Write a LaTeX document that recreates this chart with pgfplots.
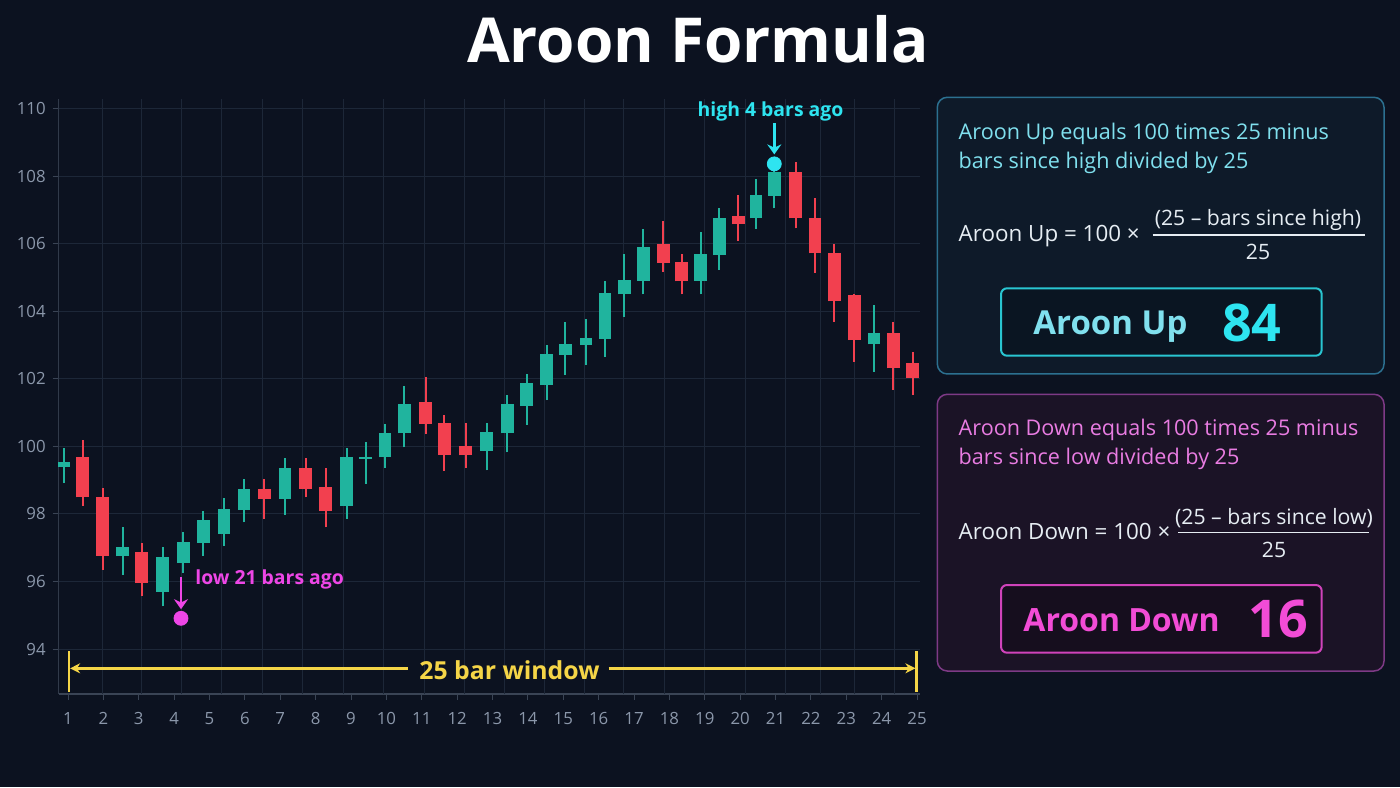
\documentclass[border=0pt]{standalone}
\usepackage{fontspec}
\setmainfont{Open Sans}
\usepackage{pgfplots}
\pgfplotsset{compat=1.18}
\usepackage{pgfplotstable}
\usetikzlibrary{arrows.meta}

\definecolor{bg}{HTML}{0C1220}
\definecolor{gridc}{HTML}{1D2738}
\definecolor{axisc}{HTML}{3A4455}
\definecolor{tickc}{HTML}{8B97AA}
\definecolor{upc}{HTML}{20B49E}
\definecolor{downc}{HTML}{F2404F}
\definecolor{cyanc}{HTML}{2EE4F0}
\definecolor{magc}{HTML}{EE46E6}
\definecolor{yel}{HTML}{F5D547}
\definecolor{pafill}{HTML}{0E1A29}
\definecolor{paborder}{HTML}{2C7090}
\definecolor{patext}{HTML}{80E0EE}
\definecolor{painner}{HTML}{0A1522}
\definecolor{pbfill}{HTML}{1B1326}
\definecolor{pbborder}{HTML}{7E3A86}
\definecolor{pbtext}{HTML}{E97CE2}
\definecolor{pbinner}{HTML}{160E1E}
\definecolor{pbstrong}{HTML}{F24CD6}
\definecolor{formc}{HTML}{E6EDF3}

% x = position on the 1..25 scale, o h l c = open high low close
\pgfplotstableread{
x      o      h      l      c
0.887  99.39  99.95  98.91  99.54
2.546  96.74  97.61  96.20  97.01
3.677  95.70  97.02  95.26  96.72
4.260  96.54  97.45  96.25  97.17
4.825  97.14  98.09  96.76  97.81
5.410  97.41  98.47  97.06  98.15
5.975  98.12  99.03  97.75  98.74
7.134  98.44  99.65  97.98  99.36
8.878  98.24  99.95  97.85  99.67
9.416  99.63  100.12 98.89  99.69
9.961  99.67  100.66 99.36  100.38
10.507 100.38 101.78 99.97  101.25
12.836 99.87  100.69 99.29  100.41
13.418 100.38 101.53 99.82  101.26
13.967 101.19 102.15 100.64 101.86
14.532 101.81 103.00 101.37 102.73
15.058 102.71 103.68 102.11 103.02
15.643 103.00 103.78 102.40 103.22
16.180 103.19 104.88 102.65 104.53
16.726 104.50 105.68 103.83 104.93
17.263 104.90 106.42 104.50 105.91
18.886 104.90 106.34 104.50 105.68
19.411 105.66 107.06 105.22 106.75
20.449 106.75 107.90 106.44 107.44
20.966 107.41 108.15 107.04 108.12
23.785 103.02 104.18 102.21 103.34
}\upcandles

\pgfplotstableread{
x      o      h      l      c
1.415  99.68  100.20 98.24  98.49
1.980  98.50  98.77  96.35  96.76
3.083  96.86  97.14  95.56  95.95
6.550  98.74  99.03  97.85  98.44
7.720  99.36  99.65  98.49  98.75
8.285  98.80  99.36  97.60  98.09
11.110 101.30 102.05 100.37 100.67
11.637 100.69 100.94 99.28  99.75
12.242 100.02 100.69 99.36  99.73
17.828 106.00 106.67 105.16 105.44
18.348 105.46 105.68 104.50 104.88
19.948 106.82 107.44 106.08 106.57
21.571 108.12 108.41 106.45 106.75
22.117 106.75 107.36 105.14 105.71
22.663 105.73 106.00 103.69 104.29
23.228 104.48 104.50 102.50 103.14
24.330 103.34 103.68 101.67 102.31
24.878 102.48 102.80 101.53 102.01
}\downcandles

\pgfplotsset{candle/.style={forget plot, draw=none, mark=none,
  error bars/.cd, y dir=plus, y explicit, error mark=none}}

\begin{document}
\begin{tikzpicture}
\begin{scope}[x=0.5pt,y=-0.5pt,yshift=393.5pt]
\fill[bg] (0,0) rectangle (1400,787);
\end{scope}

\begin{axis}[
  at={(29.35pt,46.5pt)}, anchor=south west,
  scale only axis, width=430.65pt, height=297.5pt,
  xmin=0.737, xmax=25.085, ymin=92.67, ymax=110.28,
  axis lines*=left,
  x axis line style={draw=axisc, line width=0.8pt},
  y axis line style={draw=axisc!80!bg, line width=0.6pt},
  xtick={1,...,25}, ytick={94,96,...,110},
  tick align=outside, major tick length=3pt,
  tick style={draw=axisc, line width=0.5pt},
  ymajorgrids, grid style={draw=gridc, line width=0.5pt},
  extra x ticks={1.989,3.078,4.214,5.348,6.484,7.637,8.774,9.925,11.078,12.211,13.348,14.467,15.601,16.703,17.857,18.99,20.143,21.269,22.258,23.228,24.364},
  extra x tick labels={},
  extra x tick style={grid=major, major tick length=0pt},
  /pgf/number format/assume math mode=true,
  ticklabel style={font=\fontsize{8.4}{10}\selectfont, text=tickc},
  xticklabel style={yshift=-2.5pt},
  clip=false,
]
% wicks
\addplot[candle, error bar style={draw=upc, line width=1pt}]
  table[x=x, y=l, y error expr=\thisrow{h}-\thisrow{l}] {\upcandles};
\addplot[candle, error bar style={draw=downc, line width=1pt}]
  table[x=x, y=l, y error expr=\thisrow{h}-\thisrow{l}] {\downcandles};
% bodies
\addplot[candle, error bar style={draw=upc, line width=6.3pt}]
  table[x=x, y=o, y error expr=\thisrow{c}-\thisrow{o}] {\upcandles};
\addplot[candle, error bar style={draw=downc, line width=6.3pt}]
  table[x=x, y=c, y error expr=\thisrow{o}-\thisrow{c}] {\downcandles};

% highest high and lowest low
\addplot[only marks, mark=*, mark size=3.5pt, color=cyanc] coordinates {(20.966,108.36)};
\addplot[only marks, mark=*, mark size=3.5pt, color=magc] coordinates {(4.194,94.91)};

\draw[cyanc, line width=1.25pt, -{Stealth[length=5pt,width=7pt]}]
  (axis cs:20.966,109.57) -- (axis cs:20.966,108.64);
\node[anchor=base, text=cyanc, font=\bfseries\fontsize{9.7}{11}\selectfont]
  at (axis cs:20.86,109.75) {high 4 bars ago};
\draw[magc, line width=1.25pt, -{Stealth[length=5pt,width=7pt]}]
  (axis cs:4.194,96.13) -- (axis cs:4.194,95.18);
\node[anchor=base west, text=magc, font=\bfseries\fontsize{9.7}{11}\selectfont]
  at (axis cs:4.40,95.90) {low 21 bars ago};

% 25 bar window
\draw[yel, line width=1.4pt] (axis cs:1.028,93.94) -- (axis cs:1.028,92.72);
\draw[yel, line width=1.4pt] (axis cs:24.986,93.94) -- (axis cs:24.986,92.72);
\draw[yel, line width=1.3pt, {Stealth[length=5pt,width=5pt]}-]
  (axis cs:1.06,93.43) -- (axis cs:10.6,93.43);
\draw[yel, line width=1.3pt, -{Stealth[length=5pt,width=5pt]}]
  (axis cs:16.28,93.43) -- (axis cs:24.955,93.43);
\node[anchor=base, text=yel, font=\bfseries\fontsize{12.4}{14}\selectfont]
  at (axis cs:13.48,93.09) {25 bar window};
\end{axis}

\begin{scope}[x=0.5pt,y=-0.5pt,yshift=393.5pt]
\node[anchor=base, text=white, font=\bfseries\fontsize{31}{38}\selectfont]
  at (698,62.7) {Aroon Formula};

% Aroon Up panel
\draw[paborder, fill=pafill, line width=0.75pt, rounded corners=5pt]
  (937.3,97.3) rectangle (1384,374);
\node[anchor=base west, inner sep=0pt, text=patext, font=\fontsize{10.8}{13}\selectfont]
  at (958.3,139.3) {Aroon Up equals 100 times 25 minus};
\node[anchor=base west, inner sep=0pt, text=patext, font=\fontsize{10.8}{13}\selectfont]
  at (958.3,169) {bars since high divided by 25};
\node[anchor=base west, inner sep=0pt, text=formc, font=\fontsize{11.2}{13}\selectfont]
  at (958.3,241.7) {Aroon Up = 100 ×};
\node[anchor=base, inner sep=0pt, text=formc, font=\fontsize{10.6}{13}\selectfont]
  at (1258,226) {(25 – bars since high)};
\draw[formc, line width=0.6pt] (1152.7,235) -- (1365,235);
\node[anchor=base, inner sep=0pt, text=formc, font=\fontsize{10.6}{13}\selectfont]
  at (1258,260) {25};
\draw[cyanc!85!bg, fill=painner, line width=1pt, rounded corners=3pt]
  (1001,288.3) rectangle (1321.7,355.7);
\node[anchor=base west, inner sep=0pt, text=patext, font=\bfseries\fontsize{16.5}{20}\selectfont]
  at (1033,334.3) {Aroon Up};
\node[anchor=base west, inner sep=0pt, text=cyanc, font=\bfseries\fontsize{26}{30}\selectfont]
  at (1221.7,341.7) {84};

% Aroon Down panel
\draw[pbborder, fill=pbfill, line width=0.75pt, rounded corners=5pt]
  (937.3,394.3) rectangle (1384,671);
\node[anchor=base west, inner sep=0pt, text=pbtext, font=\fontsize{10.8}{13}\selectfont]
  at (958.3,435.7) {Aroon Down equals 100 times 25 minus};
\node[anchor=base west, inner sep=0pt, text=pbtext, font=\fontsize{10.8}{13}\selectfont]
  at (958.3,465) {bars since low divided by 25};
\node[anchor=base west, inner sep=0pt, text=formc, font=\fontsize{11.2}{13}\selectfont]
  at (958.3,539) {Aroon Down = 100 ×};
\node[anchor=base, inner sep=0pt, text=formc, font=\fontsize{10.6}{13}\selectfont]
  at (1274,524) {(25 – bars since low)};
\draw[formc, line width=0.6pt] (1178,532.7) -- (1369,532.7);
\node[anchor=base, inner sep=0pt, text=formc, font=\fontsize{10.6}{13}\selectfont]
  at (1274,557.3) {25};
\draw[pbstrong!85!bg, fill=pbinner, line width=1pt, rounded corners=3pt]
  (1001,585) rectangle (1321.7,652.7);
\node[anchor=base west, inner sep=0pt, text=pbstrong, font=\bfseries\fontsize{16}{20}\selectfont]
  at (1023,631) {Aroon Down};
\node[anchor=base west, inner sep=0pt, text=pbstrong, font=\bfseries\fontsize{26}{30}\selectfont]
  at (1248,637.3) {16};
\end{scope}

\pgfresetboundingbox
\useasboundingbox (0,0) rectangle (700pt,393.5pt);
\end{tikzpicture}
\end{document}
